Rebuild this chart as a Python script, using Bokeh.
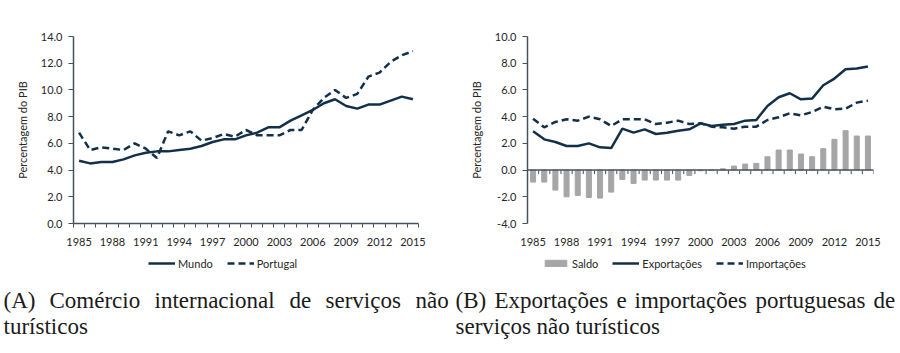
from bokeh.plotting import figure
from bokeh.models import Range1d, FixedTicker, Legend, LegendItem, Span, NumeralTickFormatter
from bokeh.layouts import column, row
from bokeh.embed import file_html
from bokeh.resources import INLINE
from bokeh.core.properties import value

years = list(range(1985, 2016))
mundo = [4.7, 4.5, 4.6, 4.6, 4.8, 5.1, 5.3, 5.4, 5.4, 5.5, 5.6, 5.8, 6.1, 6.3, 6.3, 6.6, 6.8, 7.2, 7.2,
         7.7, 8.1, 8.5, 9.0, 9.3, 8.8, 8.6, 8.9, 8.9, 9.2, 9.5, 9.3]
portugal = [6.8, 5.5, 5.7, 5.6, 5.5, 6.0, 5.6, 4.9, 6.9, 6.6, 6.9, 6.2, 6.4, 6.7, 6.5, 7.0, 6.6, 6.6, 6.6,
            7.0, 7.0, 8.5, 9.4, 10.0, 9.4, 9.7, 11.0, 11.3, 12.1, 12.6, 12.9]
exportacoes = [2.9, 2.3, 2.1, 1.8, 1.8, 2.0, 1.7, 1.65, 3.1, 2.8, 3.05, 2.7, 2.8, 2.95, 3.05, 3.5, 3.3, 3.4,
               3.45, 3.7, 3.75, 4.8, 5.45, 5.75, 5.3, 5.35, 6.35, 6.85, 7.55, 7.6, 7.75]
importacoes = [3.85, 3.2, 3.6, 3.8, 3.7, 4.0, 3.8, 3.3, 3.8, 3.8, 3.8, 3.45, 3.55, 3.7, 3.45, 3.5, 3.25, 3.2,
               3.1, 3.25, 3.25, 3.75, 3.95, 4.25, 4.1, 4.35, 4.75, 4.55, 4.6, 5.05, 5.2]
saldo = [-0.9, -0.9, -1.5, -2.0, -1.9, -2.05, -2.1, -1.65, -0.7, -1.0, -0.75, -0.75, -0.75, -0.75, -0.4,
         -0.05, 0.0, 0.1, 0.3, 0.45, 0.5, 1.0, 1.5, 1.5, 1.2, 1.0, 1.6, 2.3, 2.95, 2.55, 2.55]

x_tick_years = [1985, 1988, 1991, 1994, 1997, 2000, 2003, 2006, 2009, 2012, 2015]
x_tick_labels = ["1985", "1988", "1991", "1994", "1997", "2000", "2003", "2006", "2009", "2012", "2015"]
y_ticks_a = [0, 2, 4, 6, 8, 10, 12, 14]
y_ticks_b = [-4, -2, 0, 2, 4, 6, 8, 10]

caption_a_line1 = ["(A)", "Comércio", "internacional", "de", "serviços", "não"]
caption_a_line2 = ["turísticos"]
caption_b_line1 = ["(B)", "Exportações", "e", "importações", "portuguesas", "de"]
caption_b_line2 = ["serviços não turísticos"]

NAVY = "#12304a"
AXIS = "#46525c"
GREY = "#a6a6a6"
FONT = "Lato"
TXT = "#262626"
NAN = float("nan")

boundaries = [y - 0.5 for y in years] + [years[-1] + 0.5]


def make_fig(ymin, ymax, yticks, bl, br):
    p = figure(width=450, height=250, x_range=Range1d(1984.5, 2015.5), y_range=Range1d(ymin, ymax),
               output_backend="svg", toolbar_location=None,
               min_border_left=bl, min_border_right=br, min_border_top=36, min_border_bottom=27)
    p.outline_line_color = None
    p.grid.visible = False
    ya = p.yaxis[0]
    ya.ticker = FixedTicker(ticks=yticks)
    ya.formatter = NumeralTickFormatter(format="0.0")
    ya.axis_line_color = AXIS
    ya.axis_line_width = 1.5
    ya.major_tick_line_color = AXIS
    ya.major_tick_out = 5
    ya.major_tick_in = 0
    ya.minor_tick_line_color = None
    ya.major_label_standoff = 6
    ya.major_label_text_font = FONT
    ya.major_label_text_font_size = "11px"
    ya.major_label_text_color = TXT
    ya.axis_label = "Percentagem do PIB"
    ya.axis_label_text_font = FONT
    ya.axis_label_text_font_size = "11px"
    ya.axis_label_text_font_style = "normal"
    ya.axis_label_text_color = TXT
    ya.axis_label_standoff = 9
    xa = p.xaxis[0]
    xa.ticker = FixedTicker(ticks=x_tick_years, minor_ticks=boundaries)
    xa.major_label_overrides = dict(zip(x_tick_years, x_tick_labels))
    xa.major_label_text_font = FONT
    xa.major_label_text_font_size = "11px"
    xa.major_label_text_color = TXT
    xa.major_tick_out = 0
    xa.major_tick_in = 0
    xa.major_tick_line_color = None
    return p


# Panel A
pa = make_fig(0, 14, y_ticks_a, 73, 32)
xa = pa.xaxis[0]
xa.axis_line_color = AXIS
xa.axis_line_width = 1.5
xa.minor_tick_line_color = AXIS
xa.minor_tick_out = 4
xa.minor_tick_in = 0
xa.major_label_standoff = 10
pa.line(years, mundo, line_color=NAVY, line_width=2.5)
pa.line(years, portugal, line_color=NAVY, line_width=2.5, line_dash="7 4")

# Panel B
pb = make_fig(-4, 10, y_ticks_b, 77, 27)
xb = pb.xaxis[0]
xb.axis_line_color = None
xb.minor_tick_line_color = None
xb.major_label_standoff = 10
pb.vbar(x=years, top=saldo, width=0.45, color=GREY)
pb.add_layout(Span(location=0, dimension="width", line_color=AXIS, line_width=1.5))
pb.segment(x0=boundaries, y0=[0] * len(boundaries), x1=boundaries, y1=[-0.3] * len(boundaries),
           line_color=AXIS, line_width=1)
pb.line(years, exportacoes, line_color=NAVY, line_width=2.5)
pb.line(years, importacoes, line_color=NAVY, line_width=2.5, line_dash="7 4")

# Legends + captions panel
pc = figure(width=900, height=103, x_range=Range1d(0, 900), y_range=Range1d(103, 0),
            output_backend="svg", toolbar_location=None, x_axis_type=None, y_axis_type=None,
            min_border=0)
pc.outline_line_color = None
pc.grid.visible = False

# legend swatch renderers (a single NaN point, so nothing is drawn in the panel itself)
lm = pc.line(x=[NAN], y=[NAN], line_color=NAVY, line_width=2.5)
lp = pc.line(x=[NAN], y=[NAN], line_color=NAVY, line_width=2.5, line_dash="7 4")
ls = pc.vbar(x=[NAN], top=[NAN], width=0.45, color=GREY)
le = pc.line(x=[NAN], y=[NAN], line_color=NAVY, line_width=2.5)
li = pc.line(x=[NAN], y=[NAN], line_color=NAVY, line_width=2.5, line_dash="7 4")


def add_legend(items, loc):
    lg = Legend(items=items, orientation="horizontal", location=loc, padding=0, margin=0,
                border_line_color=None, background_fill_alpha=0, glyph_width=27, glyph_height=8,
                label_standoff=3, spacing=14, label_height=14, label_text_font=FONT,
                label_text_font_size="11px", label_text_color=TXT)
    pc.add_layout(lg)


add_legend([LegendItem(label="Mundo", renderers=[lm]), LegendItem(label="Portugal", renderers=[lp])], (148, 83))
add_legend([LegendItem(label="Saldo", renderers=[ls]), LegendItem(label="Exportações", renderers=[le]),
            LegendItem(label="Importações", renderers=[li])], (542, 83))

cap_kw = dict(text_font=value("Liberation Serif"), text_font_size="23px", text_baseline="alphabetic",
              text_color="#1a1a1a")
pc.text(x=[3, 49, 154, 289, 325, 415], y=[50] * 6, text=caption_a_line1, **cap_kw)
pc.text(x=[3], y=[76], text=caption_a_line2, **cap_kw)
pc.text(x=[455, 494, 616, 634, 755, 873], y=[50] * 6, text=caption_b_line1, **cap_kw)
pc.text(x=[455], y=[76], text=caption_b_line2, **cap_kw)

layout = column(row(pa, pb, spacing=0), pc, spacing=0)
open("out.html", "w").write(file_html(layout, INLINE))
